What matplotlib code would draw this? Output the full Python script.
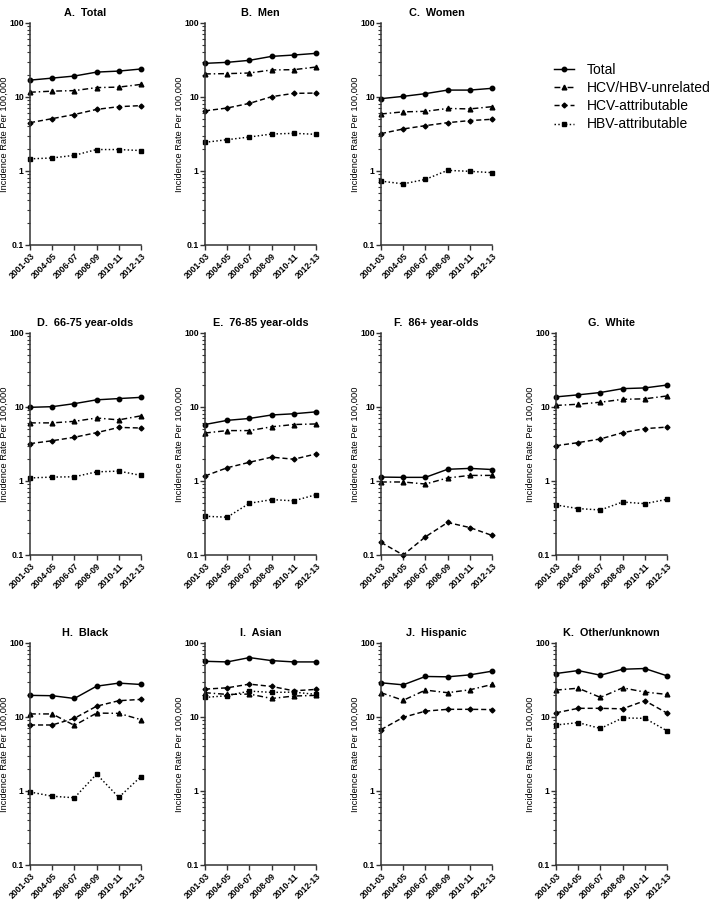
import matplotlib
matplotlib.use("Agg")
import matplotlib.pyplot as plt
from matplotlib.ticker import LogLocator, NullFormatter, FixedLocator
import numpy as np

plt.rcParams['font.family'] = ['Liberation Sans', 'DejaVu Sans']

periods = ["2001-03", "2004-05", "2006-07", "2008-09", "2010-11", "2012-13"]
panel_titles = ["A.  Total", "B.  Men", "C.  Women",
                "D.  66-75 year-olds", "E.  76-85 year-olds", "F.  86+ year-olds", "G.  White",
                "H.  Black", "I.  Asian", "J.  Hispanic", "K.  Other/unknown"]
series_labels = ["Total", "HCV/HBV-unrelated", "HCV-attributable", "HBV-attributable"]

total_rates = [
    [16.9, 18.0, 19.2, 21.7, 22.4, 23.9],
    [28.5, 29.4, 31.3, 35.4, 36.9, 38.9],
    [9.5, 10.2, 11.1, 12.4, 12.4, 13.1],
    [9.9, 10.1, 11.1, 12.5, 13.0, 13.5],
    [5.8, 6.6, 7.0, 7.8, 8.1, 8.6],
    [1.13, 1.12, 1.12, 1.44, 1.48, 1.43],
    [13.7, 14.6, 15.7, 17.7, 18.1, 19.8],
    [19.6, 19.4, 17.8, 26.1, 28.7, 27.5],
    [56.6, 55.5, 63.5, 57.8, 55.5, 55.5],
    [29.0, 27.2, 35.3, 34.9, 37.1, 41.6],
    [38.7, 42.4, 36.7, 44.2, 45.2, 36.0],
]
unrelated_rates = [
    [11.6, 12.0, 12.2, 13.4, 13.6, 14.8],
    [20.5, 20.7, 21.1, 23.2, 23.4, 25.4],
    [5.9, 6.3, 6.4, 7.0, 6.9, 7.4],
    [6.1, 6.1, 6.4, 7.1, 6.7, 7.6],
    [4.45, 4.8, 4.8, 5.4, 5.8, 5.9],
    [0.97, 0.97, 0.91, 1.10, 1.19, 1.19],
    [10.5, 10.9, 11.6, 12.7, 12.9, 14.1],
    [11.0, 11.0, 7.7, 11.3, 11.2, 9.2],
    [21.3, 20.2, 20.4, 17.8, 19.2, 19.6],
    [21.3, 16.8, 23.1, 21.3, 23.3, 27.5],
    [23.1, 24.5, 18.4, 24.8, 21.7, 20.2],
]
hcv_rates = [
    [4.5, 5.1, 5.8, 6.8, 7.4, 7.65],
    [6.5, 7.1, 8.2, 10.1, 11.2, 11.3],
    [3.2, 3.7, 4.1, 4.5, 4.8, 5.0],
    [3.2, 3.5, 3.9, 4.5, 5.3, 5.2],
    [1.17, 1.51, 1.79, 2.10, 1.97, 2.32],
    [0.148, 0.1, 0.176, 0.275, 0.235, 0.184],
    [3.0, 3.3, 3.7, 4.5, 5.1, 5.35],
    [7.8, 7.8, 9.6, 14.0, 16.6, 17.3],
    [23.8, 24.8, 27.8, 25.9, 22.6, 23.6],
    [6.75, 9.9, 12.0, 12.7, 12.7, 12.6],
    [11.4, 13.1, 13.1, 12.9, 16.6, 11.3],
]
hbv_rates = [
    [1.46, 1.50, 1.63, 1.95, 1.95, 1.89],
    [2.44, 2.65, 2.88, 3.16, 3.23, 3.13],
    [0.73, 0.67, 0.77, 1.02, 0.99, 0.95],
    [1.10, 1.13, 1.14, 1.33, 1.36, 1.19],
    [0.334, 0.324, 0.50, 0.56, 0.54, 0.653],
    None,
    [0.474, 0.424, 0.406, 0.52, 0.494, 0.565],
    [0.97, 0.85, 0.81, 1.69, 0.82, 1.57],
    [18.4, 19.4, 22.4, 21.5, 21.7, 20.2],
    None,
    [7.8, 8.4, 7.0, 9.7, 9.6, 6.5],
]

styles = [
    dict(linestyle='-', marker='o', markersize=3.2),
    dict(linestyle=(0, (4, 2, 1, 2)), marker='^', markersize=3.4),
    dict(linestyle=(0, (3.5, 2)), marker='D', markersize=2.5),
    dict(linestyle=(0, (1, 1.6)), marker='s', markersize=3.2),
]

W, H = 712, 900
fig = plt.figure(figsize=(W / 100, H / 100), dpi=100)

col_left = [30, 205, 381, 556]
row_top = [23, 333, 643]
ax_w, ax_h = 111, 222
positions = [(0, 0), (0, 1), (0, 2),
             (1, 0), (1, 1), (1, 2), (1, 3),
             (2, 0), (2, 1), (2, 2), (2, 3)]

axis_color = '#333333'
handles = None
for i, (r, c) in enumerate(positions):
    l = col_left[c] / W
    b = 1 - (row_top[r] + ax_h) / H
    ax = fig.add_axes([l, b, ax_w / W, ax_h / H])
    x = np.arange(len(periods))
    data = [total_rates[i], unrelated_rates[i], hcv_rates[i], hbv_rates[i]]
    hs = []
    for s, d in enumerate(data):
        if d is None:
            hs.append(None)
            continue
        h, = ax.plot(x, d, color='black', linewidth=1.05, clip_on=False,
                     label=series_labels[s], **styles[s])
        hs.append(h)
    if i == 0:
        handles = hs
    ax.set_yscale('log')
    ax.set_ylim(0.1, 100)
    ax.set_xlim(0, len(periods) - 1)
    ax.yaxis.set_major_locator(FixedLocator([0.1, 1, 10, 100]))
    ax.set_yticklabels(["0.1", "1", "10", "100"])
    ax.yaxis.set_minor_locator(LogLocator(base=10, subs=np.arange(2, 10)))
    ax.yaxis.set_minor_formatter(NullFormatter())
    ax.set_xticks(x)
    ax.set_xticklabels(periods, rotation=45, ha='right', rotation_mode='anchor')
    for sp in ['top', 'right']:
        ax.spines[sp].set_visible(False)
    for sp in ['left', 'bottom']:
        ax.spines[sp].set_color(axis_color)
        ax.spines[sp].set_linewidth(1.1)
    ax.tick_params(axis='both', which='major', length=3.5, width=1.0, color=axis_color,
                   labelsize=6.2, pad=1.0)
    ax.tick_params(axis='y', which='minor', length=2, width=0.8, color=axis_color)
    for lab in ax.get_xticklabels() + ax.get_yticklabels():
        lab.set_fontweight('bold')
    ax.set_ylabel("Incidence Rate Per 100,000", fontsize=6.7, labelpad=0.5)
    ax.set_title(panel_titles[i], fontsize=7.8, fontweight='bold', pad=5)

fig.legend(handles, series_labels, loc='upper left', bbox_to_anchor=(554 / W, 1 - 63 / H),
           frameon=False, fontsize=10.0, handlelength=1.45, handletextpad=0.9,
           labelspacing=0.3, borderaxespad=0, borderpad=0)

fig.savefig("out.png", dpi=100)
